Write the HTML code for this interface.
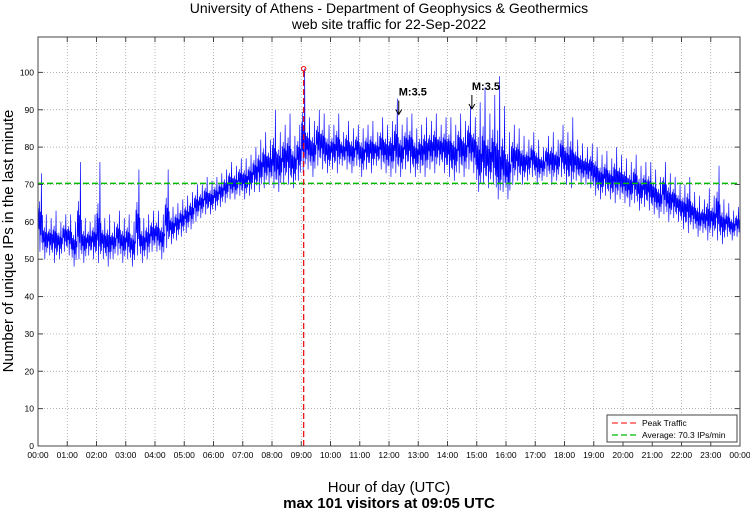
<!DOCTYPE html>
<html><head><meta charset="utf-8"><style>
body{margin:0;background:#fff;}
svg text{font-family:"Liberation Sans",sans-serif;}
</style></head><body>
<svg id="chart" width="750" height="511" xmlns="http://www.w3.org/2000/svg">
<text x="389" y="13" font-size="14" text-anchor="middle">University of Athens - Department of Geophysics &amp; Geothermics</text>
<text x="389" y="29" font-size="14" text-anchor="middle">web site traffic for 22-Sep-2022</text>
<g id="grid"></g>
<g id="series"></g>
<g id="overlay"></g>
<rect x="38" y="37" width="702" height="409" fill="none" stroke="#444" stroke-width="1"/>
<text transform="translate(13,241) rotate(-90)" font-size="15" text-anchor="middle">Number of unique IPs in the last minute</text>
<text x="389" y="492" font-size="15" text-anchor="middle">Hour of day (UTC)</text>
<text x="389" y="508" font-size="15" font-weight="bold" text-anchor="middle">max 101 visitors at 09:05 UTC</text>
<g>
<rect x="607" y="415" width="130" height="27" fill="#fff" stroke="#444"/>
<line x1="612" y1="423" x2="639" y2="423" stroke="#f33" stroke-width="1.3" stroke-dasharray="6,3"/>
<text x="642" y="426" font-size="8.5">Peak Traffic</text>
<line x1="612" y1="435" x2="639" y2="435" stroke="#0b0" stroke-width="1.3" stroke-dasharray="6,3"/>
<text x="642" y="438" font-size="8.5">Average: 70.3 IPs/min</text>
</g>
</svg>
<script>
const loVals=[52,50,51,49,50,52, 51,48,50,49,51,50, 49,50,48,50,51,49, 50,48,51,49,50,52,
52,50,53,54,55,56, 57,58,60,61,62,62, 63,64,65,66,66,67, 66,67,68,68,69,70,
69,68,70,70,69,71, 73,74,72,75,74,73, 74,73,75,74,73,75, 72,74,73,75,74,73,
72,73,72,74,73,72, 73,72,74,73,75,73, 72,71,73,72,74,73, 68,70,69,70,66,68,
66,70,71,70,71,72, 70,71,72,70,71,72, 70,69,71,70,70,69, 67,66,67,66,65,66,
65,64,65,63,64,63, 62,61,62,60,61,60, 58,57,58,56,57,55, 56,55,54,56,55,56];
const hiVals=[73,62,61,63,60,62, 62,60,76,61,60,62, 76,61,62,60,63,61, 62,60,74,61,62,63,
63,62,74,64,65,66, 67,68,70,70,72,71, 72,73,74,76,75,77, 77,78,80,82,84,82,
90,84,86,89,83,86, 101,88,87,90,89,86, 86,89,84,87,85,86, 85,86,87,84,88,86,
87,93,86,88,89,85, 86,88,87,89,86,88, 88,86,89,87,91,88, 92,96,89,94,99,91,
84,86,85,83,82,84, 82,80,83,84,82,86, 84,88,82,81,80,81, 80,78,79,77,80,78,
77,76,78,75,76,76, 74,72,76,73,72,70, 70,72,68,67,66,69, 67,75,66,65,63,64];
const hourLabels=["00:00","01:00","02:00","03:00","04:00","05:00","06:00","07:00","08:00","09:00","10:00","11:00","12:00","13:00","14:00","15:00","16:00","17:00","18:00","19:00","20:00","21:00","22:00","23:00","00:00"];
const yTicks=[0,10,20,30,40,50,60,70,80,90,100];
const avgValue=70.3;
const peakMinute=545, peakValue=101;
const quakeMinutes=[740,890];
const quakeLabels=["M:3.5","M:3.5"];

const NS="http://www.w3.org/2000/svg";
const X0=38,X1=740,Y0=446,Y100=72.4;
const xs=m=>X0+(X1-X0)*m/1440;
const ys=v=>Y0-(Y0-Y100)*v/100;
function mk(tag,attrs,parent){const e=document.createElementNS(NS,tag);for(const k in attrs)e.setAttribute(k,attrs[k]);parent.appendChild(e);return e;}
const grid=document.getElementById('grid'),series=document.getElementById('series'),ov=document.getElementById('overlay');

hourLabels.forEach((lab,i)=>{
  const x=xs(i*60);
  const g=mk('line',{x1:x,y1:37,x2:x,y2:446,stroke:'#999','stroke-width':0.7,'stroke-dasharray':'1,2'},grid);
  
  
  mk('line',{x1:x,y1:446,x2:x,y2:441,stroke:'#444'},grid);
  mk('line',{x1:x,y1:37,x2:x,y2:42,stroke:'#444'},grid);
  const t=mk('text',{x:x,y:458,'font-size':8.5,'text-anchor':'middle'},grid);
  t.textContent=lab;
  
  
});
yTicks.forEach(v=>{
  const y=ys(v);
  const g=mk('line',{x1:X0,y1:y,x2:X1,y2:y,stroke:'#999','stroke-width':0.7,'stroke-dasharray':'1,2'},grid);
  
  
  mk('line',{x1:X0,y1:y,x2:X0+5,y2:y,stroke:'#444'},grid);
  mk('line',{x1:X1,y1:y,x2:X1-5,y2:y,stroke:'#444'},grid);
  const t=mk('text',{x:34,y:y+3,'font-size':8.5,'text-anchor':'end'},grid);
  t.textContent=v;
  
  
});

const pat=[-0.6,0.4,-0.25,0.6,-1.0,0.3,-0.45,1.0,-0.7,0.2];
let pts=[];
for(let i=0;i<loVals.length;i++){
  const base=Math.min((loVals[i]+hiVals[i])/2, loVals[i]+8);
  const up=hiVals[i]-base, dn=base-loVals[i];
  for(let k=0;k<10;k++){
    const m=i*10+k, f=pat[k];
    const v=f>=0 ? base+f*up*(f===1?1:0.7) : base+f*dn;
    pts.push(xs(m).toFixed(2)+","+ys(v).toFixed(2));
  }
}
const line=mk('polyline',{points:pts.join(' '),fill:'none',stroke:'#0000ff','stroke-width':0.65},series);



const avg=mk('line',{x1:X0,y1:ys(avgValue),x2:X1,y2:ys(avgValue),stroke:'#0b0','stroke-width':1.5,'stroke-dasharray':'6,3'},ov);


const pk=mk('line',{x1:xs(peakMinute),y1:ys(0),x2:xs(peakMinute),y2:ys(peakValue),stroke:'#e00','stroke-width':1.2,'stroke-dasharray':'6,3'},ov);


const pc=mk('circle',{cx:xs(peakMinute),cy:ys(peakValue),r:2.2,fill:'none',stroke:'#e00','stroke-width':1},ov);


quakeMinutes.forEach((m,i)=>{
  const x=xs(m);
  const yv=i===0?ys(93):ys(94.5);
  const t=mk('text',{x:x,y:yv-3,'font-size':11,'font-weight':'bold','text-anchor':'start'},ov);
  t.textContent=quakeLabels[i];
  
  
  const a=mk('path',{d:`M${x},${yv+2} L${x},${yv+16} M${x-3},${yv+11} L${x},${yv+16} L${x+3},${yv+11}`,stroke:'#000',fill:'none','stroke-width':1},ov);
  
  
});
</script>
</body></html>
